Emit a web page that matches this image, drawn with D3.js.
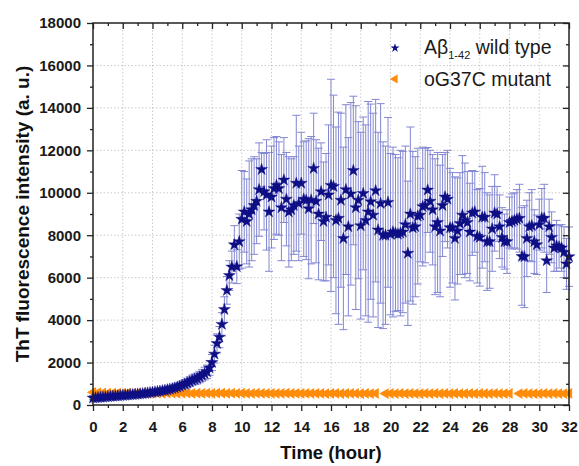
<!DOCTYPE html>
<html>
<head>
<meta charset="utf-8">
<script src="https://cdn.jsdelivr.net/npm/d3@7"></script>
<style>
  body { margin: 0; background: #fff; }
  svg { font-family: "Liberation Sans", Arial, sans-serif; }
  .tick text { font-weight: bold; font-size: 15px; fill: #1a1a1a; }
  .tick line { stroke: #222; stroke-width: 1.3; }
  .grid line { stroke: #bdbdbd; stroke-width: 0.8; stroke-dasharray: 1.5,2; }
</style>
</head>
<body>
<div id="chart"></div>
<script>
'use strict';

// time step of the readings (hours)
const blueStep = 1 / 6;
const orangeStep = 1 / 3;

// Abeta 1-42 wild type: mean ThT intensity, one row per hour
const wildMean = [
    330, 340, 350, 360, 370, 380,
    390, 400, 410, 420, 430, 440,
    450, 460, 470, 480, 490, 500,
    510, 520, 535, 550, 565, 580,
    600, 615, 630, 650, 670, 690,
    715, 740, 770, 800, 840, 880,
    930, 980, 1040, 1100, 1170, 1210,
    1250, 1320, 1400, 1480, 1560, 1750,
    2000, 2400, 2900, 3200, 3800, 4500,
    5400, 6100, 6500, 7550, 6520, 7700,
    8750, 9100, 8650, 9000, 9200, 9400,
    9600, 10150, 11100, 10050, 9900, 9100,
    9800, 10200, 10350, 10200, 9300, 10600,
    9700, 9100, 9200, 9400, 10450, 9500,
    10450, 9700, 9650, 9250, 9650, 11150,
    9600, 9000, 10050, 8650, 8850, 9900,
    10350, 10300, 8700, 8800, 9650, 7850,
    10150, 8400, 9950, 11050, 9300, 9650,
    8450, 9970, 8700, 9100, 9580, 8950,
    10100, 8250, 9500, 8000, 8000, 9550,
    8050, 8150, 8100, 8050, 8100, 8150,
    8500, 7150, 9000, 8350, 8400, 8900,
    8950, 9350, 9400, 10130, 9600, 9200,
    8400, 8600, 8200, 9400, 9800, 9700,
    8350, 8350, 7850, 8200, 8550, 8950,
    8700, 8600, 8150, 9050, 9100, 7950,
    7900, 8850, 8850, 7700, 7700, 8300,
    9050, 9000, 8400, 7900, 7700, 7700,
    8600, 8650, 8700, 8750, 8800, 7000,
    6990, 7850, 8400, 8450, 7700, 7550,
    8500, 8800, 8800, 6800, 8400, 7900,
    7400, 7500, 7450, 7400, 7200, 6650,
    6990
];

// standard deviation for the wild type readings
const wildErr = [
    80, 80, 80, 85, 85, 85,
    90, 90, 90, 95, 95, 95,
    100, 100, 100, 105, 105, 110,
    110, 115, 115, 120, 120, 125,
    125, 130, 130, 135, 140, 145,
    150, 155, 160, 170, 180, 190,
    200, 210, 220, 230, 240, 250,
    260, 270, 280, 300, 320, 350,
    380, 420, 450, 500, 550, 600,
    650, 700, 750, 900, 800, 1300,
    2300, 1900, 2000, 2500, 2400, 2300,
    2000, 2200, 800, 1800, 2600, 2800,
    2400, 2400, 2300, 2200, 2500, 2000,
    2200, 2600, 2400, 2300, 3200, 2700,
    2400, 2700, 2800, 3300, 3000, 2600,
    2900, 3100, 2300, 2800, 3000, 3300,
    5000, 4300, 4400, 5000, 4100, 4300,
    4000, 4200, 4300, 3500, 4800, 3700,
    4400, 3600, 4500, 5200, 4600, 4800,
    4300, 4600, 4700, 4400, 4200, 4000,
    3800, 4000, 3700, 3600, 3900, 3800,
    3700, 3400, 4100, 3600, 3300, 3200,
    2200, 2800, 2700, 2000, 2400, 2600,
    3200, 3300, 3100, 2400, 2100, 2300,
    2800, 2600, 2900, 2500, 2400, 2800,
    2700, 2400, 2300, 2000, 1900, 2200,
    2300, 2400, 2100, 2300, 2200, 2000,
    1800, 1300, 1500, 1400, 1300, 1500,
    1200, 1300, 1300, 1400, 1600, 2300,
    2400, 1800, 1600, 1700, 1500, 1400,
    1200, 1400, 1600, 1500, 1300, 1200,
    1100, 1200, 1000, 1100, 1200, 1200,
    1400
];

// oG37C mutant, one row per two hours (null = no reading)
const mutantMean = [
    600, 580, 570, 560, 560, 555,
    555, 560, 550, 555, 560, 550,
    560, 555, 550, 560, 555, 550,
    555, 560, 550, 555, 550, 555,
    550, 555, 560, 550, 555, 550,
    555, 550, 545, 555, 550, 545,
    550, 545, 550, 555, 545, 550,
    545, 550, 545, 550, 545, 540,
    545, 550, 540, 545, 550, 545,
    540, 545, 540, 545, null, 540,
    545, 540, 545, 540, 545, 540,
    540, 545, 540, 545, 540, 545,
    540, 545, 540, 540, 545, 540,
    545, 540, 540, 545, 540, 540,
    545, null, 540, 545, 540, 540,
    540, 545, 540, 545, 540, 540,
    545
];

const xTicks = d3.range(0, 33, 2);
const xMinor = d3.range(1, 32, 2);
const yTicks = d3.range(0, 18001, 2000);
const yMinor = d3.range(1000, 18000, 2000);

const seriesNames = ['wild type', 'oG37C mutant'];

const width = 579, height = 466;
const margin = { top: 23, right: 10, bottom: 61, left: 93 };
const plotW = width - margin.left - margin.right;
const plotH = height - margin.top - margin.bottom;

const wild = wildMean.map((v, i) => ({ t: i * blueStep, v: v, e: wildErr[i] }));
const mutant = mutantMean.map((v, i) => ({ t: i * orangeStep, v: v }))
    .filter(d => d.v !== null);

const svg = d3.select('#chart').append('svg')
    .attr('width', width)
    .attr('height', height);

const chart = svg.append('g')
    .attr('transform', `translate(${margin.left},${margin.top})`);

const x = d3.scaleLinear().domain([0, 32]).range([0, plotW]);
const y = d3.scaleLinear().domain([0, 18000]).range([plotH, 0]);

// dotted grid
chart.append('g').attr('class', 'grid')
    .selectAll('line').data(xTicks.slice(1, -1)).join('line')
    .attr('x1', d => x(d)).attr('x2', d => x(d))
    .attr('y1', 0).attr('y2', plotH);
chart.append('g').attr('class', 'grid')
    .selectAll('line').data(yTicks.slice(1, -1)).join('line')
    .attr('x1', 0).attr('x2', plotW)
    .attr('y1', d => y(d)).attr('y2', d => y(d));

// error bars
const errColor = '#8387d2';
const cap = 4;
const errG = chart.append('g')
    .attr('stroke', errColor).attr('stroke-width', 1).attr('fill', 'none');
errG.selectAll('path').data(wild).join('path')
    .attr('d', d => {
        const cx = x(d.t), y1 = y(d.v + d.e), y0 = y(Math.max(0, d.v - d.e));
        return `M${cx},${y0}V${y1}M${cx - cap},${y1}H${cx + cap}M${cx - cap},${y0}H${cx + cap}`;
    });

// mutant triangles pointing left
const tri = d3.symbol().type(d3.symbolTriangle).size(50);
chart.append('g').selectAll('path').data(mutant).join('path')
    .attr('d', tri)
    .attr('transform', d => `translate(${x(d.t)},${y(d.v)}) rotate(-90)`)
    .attr('fill', '#ff8c0a');

// wild type stars
const star = d3.symbol().type(d3.symbolStar).size(44);
chart.append('g').selectAll('path').data(wild).join('path')
    .attr('d', star)
    .attr('transform', d => `translate(${x(d.t)},${y(d.v)})`)
    .attr('fill', '#0e0e85')
    .attr('stroke', '#0e0e85').attr('stroke-width', 0.4);

// axes
function strip(g) { g.select('.domain').remove(); }

chart.append('g').attr('transform', `translate(0,${plotH})`)
    .call(d3.axisBottom(x).tickValues(xTicks).tickSize(6).tickPadding(10).tickFormat(d3.format('d')))
    .call(strip);
chart.append('g').attr('transform', `translate(0,${plotH})`)
    .call(d3.axisBottom(x).tickValues(xMinor).tickSize(3).tickFormat(''))
    .call(strip);
chart.append('g')
    .call(d3.axisTop(x).tickValues(xTicks).tickSize(-6).tickFormat(''))
    .call(strip);
chart.append('g')
    .call(d3.axisTop(x).tickValues(xMinor).tickSize(-3).tickFormat(''))
    .call(strip);

chart.append('g')
    .call(d3.axisLeft(y).tickValues(yTicks).tickSize(6).tickPadding(6).tickFormat(d3.format('d')))
    .call(strip);
chart.append('g')
    .call(d3.axisLeft(y).tickValues(yMinor).tickSize(3).tickFormat(''))
    .call(strip);
chart.append('g').attr('transform', `translate(${plotW},0)`)
    .call(d3.axisRight(y).tickValues(yTicks).tickSize(-6).tickFormat(''))
    .call(strip);
chart.append('g').attr('transform', `translate(${plotW},0)`)
    .call(d3.axisRight(y).tickValues(yMinor).tickSize(-3).tickFormat(''))
    .call(strip);

chart.append('rect')
    .attr('width', plotW).attr('height', plotH)
    .attr('fill', 'none').attr('stroke', '#222').attr('stroke-width', 1.5);

// axis titles
svg.append('text')
    .attr('x', margin.left + plotW / 2).attr('y', 459)
    .attr('text-anchor', 'middle')
    .style('font-weight', 'bold').style('font-size', '18.5px').style('fill', '#111')
    .text('Time (hour)');

svg.append('text')
    .attr('transform', `translate(29,${margin.top + plotH / 2}) rotate(-90)`)
    .attr('text-anchor', 'middle')
    .style('font-weight', 'bold').style('font-size', '19px').style('fill', '#111')
    .text('ThT fluorescence intensity (a. u.)');

// legend
const legend = svg.append('g').attr('transform', 'translate(395,0)');
legend.append('path')
    .attr('d', d3.symbol().type(d3.symbolStar).size(26))
    .attr('transform', 'translate(0,48)')
    .attr('fill', '#0e0e85');
legend.append('path')
    .attr('d', d3.symbol().type(d3.symbolTriangle).size(36))
    .attr('transform', 'translate(0,79) rotate(-90)')
    .attr('fill', '#ff8c0a');

const lt = legend.append('text')
    .attr('x', 29).attr('y', 54)
    .style('font-size', '19.5px').style('fill', '#1a1a1a');
lt.append('tspan').text('Aβ');
lt.append('tspan').attr('dy', 5).style('font-size', '11px').text('1-42');
lt.append('tspan').attr('dy', -5).text(' ' + seriesNames[0]);

legend.append('text')
    .attr('x', 29).attr('y', 86)
    .style('font-size', '19.5px').style('fill', '#1a1a1a')
    .text(seriesNames[1]);
</script>
</body>
</html>
